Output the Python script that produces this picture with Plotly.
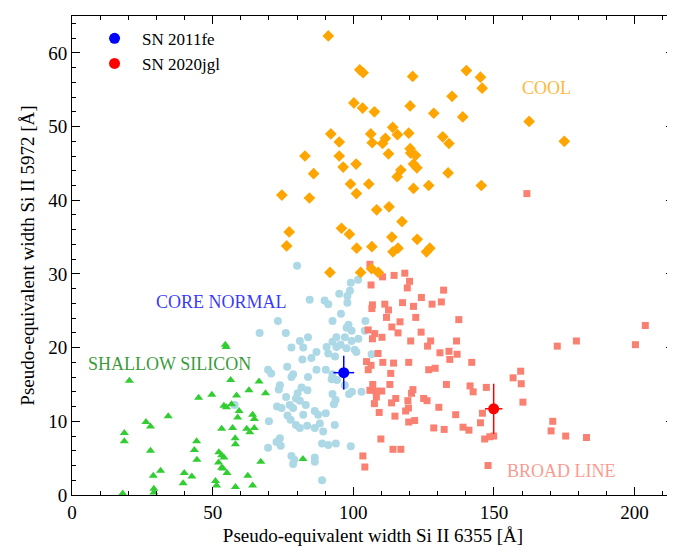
import plotly.graph_objects as go

# Cool group (orange diamonds)
cool_x = [91.1, 102.3, 103.5, 121.1, 140.2, 145.2, 145.8, 135.1, 162.5, 100.2, 103.3, 107.5, 120.2, 128.6, 138.9,
          92.0, 95.0, 106.2, 106.7, 110.4, 111.4, 114.0, 115.7, 119.7, 131.8, 134.0, 82.8, 95.0, 96.4, 101.0,
          112.5, 120.2, 120.4, 122.1, 121.4, 122.6, 116.9, 115.6, 133.7, 85.9, 99.0, 105.5, 101.1, 121.4, 126.8,
          145.5, 74.6, 84.4, 108.3, 112.7, 117.3, 77.2, 95.8, 98.6, 113.7, 122.7, 76.3, 101.2, 106.6, 114.1,
          115.9, 126.0, 127.2, 91.7, 102.6, 106.5, 108.9, 175.0]
cool_y = [62.3, 57.7, 57.3, 56.8, 57.6, 56.7, 55.2, 54.1, 50.7, 53.2, 52.5, 52.0, 52.8, 51.8, 51.3,
          49.0, 47.9, 49.0, 47.8, 47.7, 48.4, 49.9, 48.9, 49.1, 48.6, 47.7, 46.0, 46.0, 44.5, 44.9,
          46.3, 47.0, 46.4, 46.1, 44.9, 44.4, 44.1, 43.2, 43.7, 43.6, 42.2, 42.2, 40.9, 41.6, 42.0,
          42.0, 40.7, 40.3, 38.7, 39.1, 37.1, 35.7, 36.2, 35.4, 35.0, 34.7, 33.8, 33.5, 33.7, 33.0,
          33.5, 33.0, 33.5, 30.2, 30.2, 30.7, 30.2, 48.0]

# Broad line group (salmon squares)
broad_x = [105.9, 106.3, 110.4, 114.5, 118.3, 120.0, 119.2, 132.1, 124.2, 106.8, 106.6, 111.2, 112.5, 111.8, 117.5,
           121.4, 128.0, 131.3, 122.2, 116.6, 137.5, 113.7, 115.9, 105.3, 107.6, 106.8, 110.2, 124.1, 120.4, 127.5,
           126.4, 136.7, 130.8, 134.0, 136.9, 134.3, 108.8, 104.7, 106.3, 105.3, 110.5, 114.3, 119.7, 113.3, 126.8,
           129.1, 142.1, 113.0, 133.1, 106.9, 105.9, 108.1, 110.1, 108.2, 107.5, 121.2, 120.7, 115.1, 113.6, 119.4,
           125.0, 126.2, 119.6, 118.6, 109.2, 114.8, 119.7, 121.8, 130.4, 141.5, 142.6, 147.3, 136.4, 128.6, 132.3,
           139.0, 141.1, 145.9, 145.2, 146.7, 148.5, 149.9, 109.8, 114.1, 116.9, 103.4, 104.1, 147.9, 156.8, 159.5,
           159.7, 160.3, 161.7, 203.8, 179.3, 172.5, 200.3, 170.9, 170.3, 175.5, 182.9]
broad_y = [31.3, 28.5, 29.6, 29.8, 30.1, 29.0, 28.1, 27.8, 26.8, 25.8, 25.3, 25.9, 25.1, 24.1, 26.1,
           25.6, 25.9, 26.2, 24.1, 23.5, 23.8, 22.8, 22.0, 22.4, 21.9, 21.2, 21.4, 22.1, 20.9, 20.9,
           20.2, 20.9, 19.3, 19.5, 19.1, 18.4, 19.2, 18.1, 17.6, 17.0, 18.0, 17.9, 18.0, 16.5, 17.0,
           17.2, 18.0, 15.0, 15.0, 15.0, 14.2, 14.1, 14.1, 13.3, 12.4, 14.3, 13.8, 13.1, 12.5, 12.8,
           13.1, 12.8, 11.8, 11.4, 11.2, 10.7, 9.9, 10.1, 11.9, 14.8, 14.0, 14.6, 10.9, 9.1, 8.9,
           9.2, 8.8, 11.1, 9.8, 7.6, 7.9, 8.0, 7.6, 6.2, 6.2, 5.3, 3.8, 4.0, 15.9, 16.8,
           15.1, 12.6, 40.9, 23.0, 20.9, 20.2, 20.4, 10.0, 8.7, 8.0, 7.8]

# Core normal group (light blue circles)
core_x = [80.0, 99.1, 101.7, 84.5, 89.8, 91.1, 95.0, 98.8, 97.9, 97.9, 95.6, 92.6, 73.2, 98.3, 99.4,
          97.6, 104.3, 104.1, 66.7, 76.0, 83.9, 81.0, 78.0, 82.2, 94.0, 92.6, 90.5, 99.4, 101.8, 97.0,
          95.5, 94.0, 91.1, 97.6, 100.5, 101.1, 106.5, 93.5, 86.9, 85.1, 81.9, 76.5, 69.7, 70.8, 78.6,
          78.0, 83.9, 86.9, 90.2, 92.6, 94.2, 92.3, 73.9, 73.5, 81.6, 83.7, 97.0, 99.5, 98.5, 102.9,
          76.1, 80.2, 79.6, 92.6, 93.7, 93.1, 77.4, 78.6, 81.0, 83.1, 72.9, 74.5, 86.3, 87.5, 90.2,
          82.2, 76.6, 77.7, 70.0, 79.6, 81.0, 83.6, 86.3, 88.1, 93.4, 89.3, 73.9, 72.7, 74.2, 69.7,
          88.9, 91.1, 93.8, 99.1, 78.0, 79.0, 78.6, 86.3, 86.3, 88.9, 57.8]
core_y = [31.1, 28.8, 29.2, 26.5, 26.4, 25.9, 27.3, 27.7, 27.0, 26.1, 24.6, 23.6, 23.6, 23.1, 22.3,
          22.7, 23.6, 22.3, 22.0, 22.0, 21.4, 20.9, 20.0, 20.0, 21.4, 20.8, 20.1, 20.9, 21.2, 21.4,
          20.4, 20.1, 19.2, 19.9, 19.7, 19.4, 19.1, 18.8, 19.4, 18.6, 18.4, 17.4, 17.0, 16.5, 16.4,
          16.0, 16.0, 17.0, 17.0, 16.4, 15.6, 15.7, 14.9, 14.3, 14.6, 14.2, 14.9, 14.0, 13.7, 14.0,
          13.3, 13.8, 13.1, 13.7, 12.9, 12.3, 12.2, 11.8, 12.8, 12.2, 12.0, 11.8, 11.4, 10.9, 11.1,
          10.9, 10.8, 10.2, 10.0, 9.5, 9.1, 9.4, 9.1, 9.7, 9.5, 8.6, 7.7, 7.2, 6.7, 6.4,
          7.0, 6.8, 7.0, 6.6, 5.3, 4.8, 4.2, 5.1, 4.5, 2.0, 12.2]

# Shallow silicon group (green triangles)
shallow_x = [54.5, 54.8, 20.4, 56.4, 66.5, 68.8, 62.9, 58.5, 49.7, 45.0, 54.0, 54.9, 56.7, 59.4, 58.9,
             64.2, 64.8, 34.2, 26.3, 27.9, 53.2, 57.1, 62.1, 63.2, 64.8, 18.6, 18.6, 44.3, 43.5, 44.4,
             58.0, 58.1, 27.9, 52.2, 53.2, 54.0, 52.1, 53.2, 53.7, 55.1, 67.1, 28.9, 31.5, 39.9, 42.6,
             39.5, 51.0, 51.4, 58.1, 62.5, 64.2, 29.1, 29.1, 18.0, 82.1]
shallow_y = [20.4, 20.1, 15.5, 15.6, 15.4, 13.8, 14.2, 13.5, 13.6, 13.2, 12.1, 11.9, 12.3, 11.4, 10.5,
             10.9, 10.3, 10.7, 9.9, 9.3, 9.0, 9.1, 9.0, 8.5, 9.1, 8.4, 7.3, 7.3, 6.1, 4.8,
             7.7, 6.9, 6.0, 5.8, 5.4, 5.1, 4.4, 3.7, 3.6, 3.0, 4.5, 2.6, 3.3, 3.0, 2.5,
             1.6, 1.9, 1.3, 1.1, 2.6, 1.3, 0.85, 0.35, 0.2, 4.9]

# Individual supernovae with errors
sn_names = ['SN 2011fe', 'SN 2020jgl']
sn_x = [96.6, 149.9]
sn_y = [16.6, 11.7]
sn_xerr = [3.7, 3.1]
sn_yerr = [2.3, 3.4]
sn_colors = ['blue', 'red']

FONT = 'Liberation Serif'

fig = go.Figure()
fig.add_trace(go.Scatter(x=core_x, y=core_y, mode='markers', showlegend=False,
                         marker=dict(symbol='circle', size=8, color='lightblue')))
fig.add_trace(go.Scatter(x=broad_x, y=broad_y, mode='markers', showlegend=False,
                         marker=dict(symbol='square', size=7, color='salmon')))
fig.add_trace(go.Scatter(x=cool_x, y=cool_y, mode='markers', showlegend=False,
                         marker=dict(symbol='diamond', size=9, color='orange')))
fig.add_trace(go.Scatter(x=shallow_x, y=shallow_y, mode='markers', showlegend=False,
                         marker=dict(symbol='triangle-up', size=8, color='limegreen')))

for i in range(len(sn_names)):
    fig.add_trace(go.Scatter(x=[sn_x[i]], y=[sn_y[i]], mode='markers', name=sn_names[i],
                             marker=dict(symbol='circle', size=11, color=sn_colors[i]),
                             error_x=dict(type='data', array=[sn_xerr[i]], color=sn_colors[i], thickness=1.5, width=0),
                             error_y=dict(type='data', array=[sn_yerr[i]], color=sn_colors[i], thickness=1.5, width=0)))

labels = [('COOL', 168.7, 55.2, 'rgba(255,165,0,0.8)'),
          ('CORE NORMAL', 53.3, 26.2, 'rgba(0,0,255,0.8)'),
          ('SHALLOW SILICON', 34.8, 17.8, 'rgba(0,128,0,0.8)'),
          ('BROAD LINE', 174.1, 3.3, 'rgba(250,128,114,0.8)')]
for txt, lx, ly, col in labels:
    fig.add_annotation(x=lx, y=ly, text=txt, showarrow=False,
                       font=dict(family=FONT, size=18, color=col))

axis_style = dict(showline=True, linecolor='black', linewidth=1, mirror='ticks',
                  ticks='inside', ticklen=8, tickwidth=1, tickcolor='black',
                  showgrid=False, zeroline=False, automargin=False,
                  tickfont=dict(family=FONT, size=19, color='black'))

fig.update_xaxes(range=[0, 214], dtick=50, title=dict(text='Pseudo-equivalent width Si II 6355 [Å]',
                 font=dict(family=FONT, size=19, color='black'), standoff=6),
                 minor=dict(dtick=10, ticks='inside', ticklen=4, tickcolor='black'), **axis_style)
fig.update_yaxes(range=[0, 65], dtick=10, title=dict(text='Pseudo-equivalent width Si II 5972 [Å]',
                 font=dict(family=FONT, size=19, color='black'), standoff=8),
                 minor=dict(dtick=2, ticks='inside', ticklen=4, tickcolor='black'), **axis_style)

# page body has an 8px margin, so the figure is sized/offset to compensate
fig.update_layout(width=667, height=546, plot_bgcolor='white', paper_bgcolor='white',
                  margin=dict(l=64, r=1, t=8, b=59),
                  legend=dict(x=0.025, y=0.99, xanchor='left', yanchor='top', bgcolor='rgba(0,0,0,0)',
                              itemwidth=45, tracegroupgap=0,
                              font=dict(family=FONT, size=17, color='black')))

fig.write_html('out.html')
